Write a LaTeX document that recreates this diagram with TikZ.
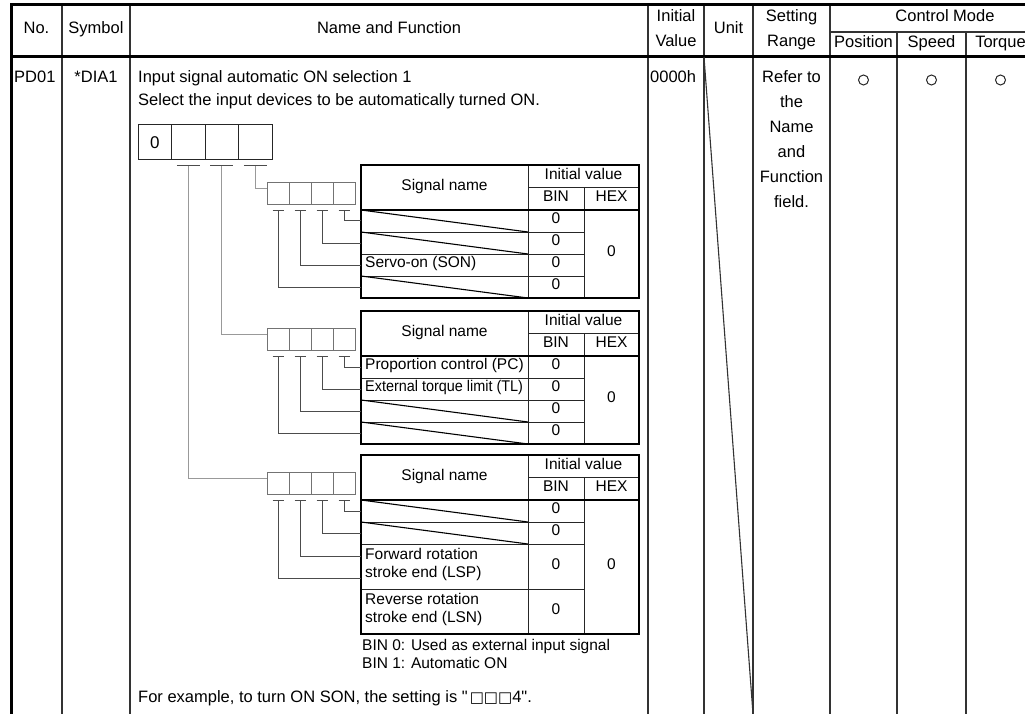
\documentclass[tikz,border=0pt]{standalone}
\usepackage{fontspec}
\setmainfont{Liberation Sans}[Ligatures=TeXOff]
\newfontfamily\boxglyphs{DejaVu Sans}

\tikzset{
  gridline/.style={black!80, line width=1.1pt},
  heavyline/.style={black, line width=3pt},
  bodytext/.style={font=\fontsize{16.5}{20}\selectfont, inner sep=0pt, anchor=mid},
  tabtext/.style={font=\fontsize{15.5}{18}\selectfont, inner sep=0pt, anchor=mid},
  digitcell/.style={draw=black!85, line width=1pt, minimum width=33.5pt, minimum height=35pt, inner sep=0pt, font=\fontsize{17}{17}\selectfont},
  bitcell/.style={draw=black!55, line width=0.9pt, minimum width=22pt, minimum height=22pt, inner sep=0pt},
  feedline/.style={black!40, line width=1.1pt},
  tapline/.style={black!70, line width=1pt},
  tabframe/.style={black, line width=2pt},
  tabsplit/.style={black, line width=2.6pt},
  tabrule/.style={black!85, line width=0.9pt},
  slashline/.style={black, line width=1.1pt},
  modemark/.style={circle, draw=black!85, line width=1pt, minimum size=10pt, inner sep=0pt},
}

\begin{document}
\begin{tikzpicture}[x=1pt, y=-1pt]
\useasboundingbox (0,0) rectangle (1025,714);

% parameter table grid
\draw[gridline] (62,5) -- (62,714);
\draw[gridline] (130,5) -- (130,714);
\draw[gridline] (648,5) -- (648,714);
\draw[gridline] (704,5) -- (704,714);
\draw[gridline] (753,5) -- (753,714);
\draw[gridline] (830,5) -- (830,714);
\draw[gridline] (897,32) -- (897,714);
\draw[gridline] (966,32) -- (966,714);
\draw[gridline] (830,32) -- (1025,32);
\draw[heavyline] (11,5) -- (1025,5);
\draw[heavyline] (11,57) -- (1025,57);
\draw[heavyline] (11,3.5) -- (11,714);
\draw[gridline] (704,57) -- (753,714);

% header
\node[bodytext] (hno) at (36.5,31) {No.};
\node[bodytext] (hsym) at (96,31) {Symbol};
\node[bodytext] (hname) at (389,31) {Name and Function};
\node[bodytext] (hinit) at (676,19) {Initial};
\node[bodytext] (hval) at (676,44) {Value};
\node[bodytext] (hunit) at (728.5,31) {Unit};
\node[bodytext] (hset) at (791.5,19) {Setting};
\node[bodytext] (hrng) at (791.5,44) {Range};
\node[bodytext] (hmode) at (945,19) {Control Mode};
\node[bodytext] (hpos) at (863.5,45) {Position};
\node[bodytext] (hspd) at (931.5,45) {Speed};
\node[bodytext] (htrq) at (1000.5,45) {Torque};

% row PD01
\node[bodytext, anchor=mid west] (pno) at (14,80) {PD01};
\node[bodytext] (psym) at (96,80) {*DIA1};
\node[bodytext, anchor=mid west] (ptitle) at (138,80) {Input signal automatic ON selection 1};
\node[bodytext, anchor=mid west] (pdesc) at (138,103) {Select the input devices to be automatically turned ON.};
\node[bodytext, anchor=mid west] (pinit) at (650,80) {0000h};
\node[bodytext] (rg1) at (791.5,80) {Refer to};
\node[bodytext] (rg2) at (791.5,105) {the};
\node[bodytext] (rg3) at (791.5,130) {Name};
\node[bodytext] (rg4) at (791.5,155) {and};
\node[bodytext] (rg5) at (791.5,180) {Function};
\node[bodytext] (rg6) at (791.5,205) {field.};
\node[modemark] (mpos) at (863.5,80) {};
\node[modemark] (mspd) at (931.5,80) {};
\node[modemark] (mtrq) at (1000.5,80) {};

% bits 0-3
\begin{scope}[shift={(0,165)}]
  \draw[tabrule] (528,22.5) -- (639,22.5);
  \draw[tabrule] (528,0) -- (528,133);
  \draw[tabrule] (584,22.5) -- (584,133);
  \draw[tabrule] (361,67) -- (584,67);
  \draw[tabrule] (361,89) -- (584,89);
  \draw[tabrule] (361,111) -- (584,111);
  \draw[slashline] (361,45) -- (528,67);
  \draw[slashline] (361,67) -- (528,89);
  \draw[slashline] (361,111) -- (528,133);
  \draw[tabsplit] (361,45) -- (639,45);
  \draw[tabframe] (361,0) rectangle (639,133);
  \node[tabtext] (sna) at (444.5,22.5) {Signal name};
  \node[tabtext] (iva) at (583.5,11.5) {Initial value};
  \node[tabtext] (bna) at (556,34) {BIN};
  \node[tabtext] (hxa) at (611.5,34) {HEX};
  \node[tabtext, anchor=mid west] (son) at (365,100) {Servo-on (SON)};
  \node[tabtext] (za1) at (556,56) {0};
  \node[tabtext] (za2) at (556,78) {0};
  \node[tabtext] (za3) at (556,100) {0};
  \node[tabtext] (za4) at (556,122) {0};
  \node[tabtext] (hza) at (611.5,89) {0};
  \node[bitcell] (xa1) at (278,28.5) {};
  \node[bitcell] (xa2) at (300,28.5) {};
  \node[bitcell] (xa3) at (322,28.5) {};
  \node[bitcell] (xa4) at (344,28.5) {};
  \coordinate (ina) at (267,23.5);
  \coordinate (ra1) at (361,56);
  \coordinate (ra2) at (361,78);
  \coordinate (ra3) at (361,100);
  \coordinate (ra4) at (361,122);
  \draw[tapline] (xa1.south) ++(-5.5,5.5) -- ++(11,0);
  \draw[tapline] (xa2.south) ++(-5.5,5.5) -- ++(11,0);
  \draw[tapline] (xa3.south) ++(-5.5,5.5) -- ++(11,0);
  \draw[tapline] (xa4.south) ++(-5.5,5.5) -- ++(11,0);
  \draw[tapline] (xa4.south) ++(0,5.5) |- (ra1);
  \draw[tapline] (xa3.south) ++(0,5.5) |- (ra2);
  \draw[tapline] (xa2.south) ++(0,5.5) |- (ra3);
  \draw[tapline] (xa1.south) ++(0,5.5) |- (ra4);
\end{scope}

% bits 4-7
\begin{scope}[shift={(0,311)}]
  \draw[tabrule] (528,22.5) -- (639,22.5);
  \draw[tabrule] (528,0) -- (528,133);
  \draw[tabrule] (584,22.5) -- (584,133);
  \draw[tabrule] (361,67) -- (584,67);
  \draw[tabrule] (361,89) -- (584,89);
  \draw[tabrule] (361,111) -- (584,111);
  \draw[slashline] (361,89) -- (528,111);
  \draw[slashline] (361,111) -- (528,133);
  \draw[tabsplit] (361,45) -- (639,45);
  \draw[tabframe] (361,0) rectangle (639,133);
  \node[tabtext] (snb) at (444.5,22.5) {Signal name};
  \node[tabtext] (ivb) at (583.5,11.5) {Initial value};
  \node[tabtext] (bnb) at (556,34) {BIN};
  \node[tabtext] (hxb) at (611.5,34) {HEX};
  \node[tabtext, anchor=mid west] (pc) at (365,56) {Proportion control (PC)};
  \node[tabtext, anchor=mid west] (tl) at (365,78) {\scalebox{0.93}[1]{External torque limit (TL)}};
  \node[tabtext] (zb1) at (556,56) {0};
  \node[tabtext] (zb2) at (556,78) {0};
  \node[tabtext] (zb3) at (556,100) {0};
  \node[tabtext] (zb4) at (556,122) {0};
  \node[tabtext] (hzb) at (611.5,89) {0};
  \node[bitcell] (xb1) at (278,28.5) {};
  \node[bitcell] (xb2) at (300,28.5) {};
  \node[bitcell] (xb3) at (322,28.5) {};
  \node[bitcell] (xb4) at (344,28.5) {};
  \coordinate (inb) at (267,23.5);
  \coordinate (rb1) at (361,56);
  \coordinate (rb2) at (361,78);
  \coordinate (rb3) at (361,100);
  \coordinate (rb4) at (361,122);
  \draw[tapline] (xb1.south) ++(-5.5,5.5) -- ++(11,0);
  \draw[tapline] (xb2.south) ++(-5.5,5.5) -- ++(11,0);
  \draw[tapline] (xb3.south) ++(-5.5,5.5) -- ++(11,0);
  \draw[tapline] (xb4.south) ++(-5.5,5.5) -- ++(11,0);
  \draw[tapline] (xb4.south) ++(0,5.5) |- (rb1);
  \draw[tapline] (xb3.south) ++(0,5.5) |- (rb2);
  \draw[tapline] (xb2.south) ++(0,5.5) |- (rb3);
  \draw[tapline] (xb1.south) ++(0,5.5) |- (rb4);
\end{scope}

% bits 8-11
\begin{scope}[shift={(0,455)}]
  \draw[tabrule] (528,22.5) -- (639,22.5);
  \draw[tabrule] (528,0) -- (528,179);
  \draw[tabrule] (584,22.5) -- (584,179);
  \draw[tabrule] (361,67) -- (584,67);
  \draw[tabrule] (361,89) -- (584,89);
  \draw[tabrule] (361,134) -- (584,134);
  \draw[slashline] (361,45) -- (528,67);
  \draw[slashline] (361,67) -- (528,89);
  \draw[tabsplit] (361,45) -- (639,45);
  \draw[tabframe] (361,0) rectangle (639,179);
  \node[tabtext] (snc) at (444.5,22.5) {Signal name};
  \node[tabtext] (ivc) at (583.5,11.5) {Initial value};
  \node[tabtext] (bnc) at (556,34) {BIN};
  \node[tabtext] (hxc) at (611.5,34) {HEX};
  \node[tabtext, anchor=mid west] (lspa) at (365,102) {Forward rotation};
  \node[tabtext, anchor=mid west] (lspb) at (365,120) {stroke end (LSP)};
  \node[tabtext, anchor=mid west] (lsna) at (365,147) {Reverse rotation};
  \node[tabtext, anchor=mid west] (lsnb) at (365,165) {stroke end (LSN)};
  \node[tabtext] (zc1) at (556,56) {0};
  \node[tabtext] (zc2) at (556,78) {0};
  \node[tabtext] (zc3) at (556,111.5) {0};
  \node[tabtext] (zc4) at (556,156.5) {0};
  \node[tabtext] (hzc) at (611.5,112) {0};
  \node[bitcell] (xc1) at (278,28.5) {};
  \node[bitcell] (xc2) at (300,28.5) {};
  \node[bitcell] (xc3) at (322,28.5) {};
  \node[bitcell] (xc4) at (344,28.5) {};
  \coordinate (inc) at (267,23.5);
  \coordinate (rc1) at (361,56);
  \coordinate (rc2) at (361,78);
  \coordinate (rc3) at (361,101);
  \coordinate (rc4) at (361,123);
  \draw[tapline] (xc1.south) ++(-5.5,5.5) -- ++(11,0);
  \draw[tapline] (xc2.south) ++(-5.5,5.5) -- ++(11,0);
  \draw[tapline] (xc3.south) ++(-5.5,5.5) -- ++(11,0);
  \draw[tapline] (xc4.south) ++(-5.5,5.5) -- ++(11,0);
  \draw[tapline] (xc4.south) ++(0,5.5) |- (rc1);
  \draw[tapline] (xc3.south) ++(0,5.5) |- (rc2);
  \draw[tapline] (xc2.south) ++(0,5.5) |- (rc3);
  \draw[tapline] (xc1.south) ++(0,5.5) |- (rc4);
\end{scope}

% four digit setting
\node[digitcell] (dg1) at (154.75,142.5) {0};
\node[digitcell] (dg2) at (188.25,142.5) {};
\node[digitcell] (dg3) at (221.75,142.5) {};
\node[digitcell] (dg4) at (255.25,142.5) {};
\draw[feedline] (dg2.south) ++(0,5) |- (inc);
\draw[feedline] (dg3.south) ++(0,5) |- (inb);
\draw[feedline] (dg4.south) ++(0,5) |- (ina);
\draw[tapline] (dg2.south) ++(-11.5,5) -- ++(23,0);
\draw[tapline] (dg3.south) ++(-11.5,5) -- ++(23,0);
\draw[tapline] (dg4.south) ++(-11.5,5) -- ++(23,0);

% notes
\node[tabtext, anchor=mid west] (bin0) at (362,648) {BIN 0: Used as external input signal};
\node[tabtext, anchor=mid west] (bin1) at (362,666) {BIN 1: Automatic ON};
\node[bodytext, anchor=mid west] (eg) at (138,700) {For example, to turn ON SON, the setting is "\kern2pt{\boxglyphs\fontsize{15}{15}\selectfont □□□}4".};
\end{tikzpicture}
\end{document}
